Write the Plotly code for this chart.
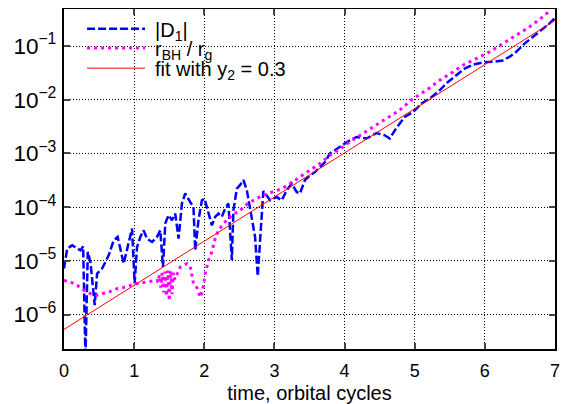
import plotly.graph_objects as go

# |D1| (blue dashed)
d1_t = [0.0, 0.046, 0.117, 0.188, 0.235, 0.273, 0.306, 0.339, 0.377, 0.438,
        0.472, 0.543, 0.590, 0.637, 0.708, 0.765, 0.851, 0.922, 0.970, 1.007,
        1.041, 1.088, 1.135, 1.183, 1.255, 1.326, 1.373, 1.411, 1.444, 1.491,
        1.539, 1.586, 1.633, 1.681, 1.728, 1.799, 1.846, 1.871, 1.917, 1.966,
        2.003, 2.037, 2.108, 2.155, 2.202, 2.250, 2.297, 2.344, 2.393, 2.415,
        2.464, 2.511, 2.558, 2.606, 2.653, 2.724, 2.762, 2.800, 2.842, 2.937,
        3.033, 3.104, 3.175, 3.246, 3.317, 3.364, 3.435, 3.506, 3.578, 3.649,
        3.720, 3.791, 3.862, 3.933, 4.004, 4.075, 4.171, 4.313, 4.455, 4.573,
        4.644, 4.740, 4.858, 4.976, 5.095, 5.213, 5.356, 5.474, 5.593, 5.711,
        5.853, 5.996, 6.138, 6.256, 6.351, 6.447, 6.565, 6.683, 6.802, 6.920,
        6.990]
d1_val = [7.2e-6, 1.7e-5, 1.95e-5, 1.7e-5, 1.57e-5, 1.87e-5, 1.5e-7, 1.47e-5, 9.5e-6, 1.5e-6,
          5.8e-6, 7.2e-6, 9.5e-6, 1.27e-5, 2.4e-5, 2.8e-5, 8.9e-6, 2.1e-5, 4.0e-5, 3.8e-6,
          1.8e-5, 2.8e-5, 3.7e-5, 2.6e-5, 2.25e-5, 2.8e-5, 3.7e-5, 7.7e-6, 5.0e-5, 7.1e-5,
          5.7e-5, 7.6e-5, 2.6e-5, 1.17e-4, 1.8e-4, 1.25e-4, 1.0e-4, 1.57e-5, 5.7e-5, 1.34e-4,
          1.44e-4, 1.0e-4, 4.6e-5, 6.6e-5, 7.6e-5, 6.6e-5, 9.4e-5, 1.17e-4, 1.03e-5, 8.7e-5,
          2.2e-4, 2.6e-4, 3.2e-4, 2.1e-4, 1.0e-4, 2.8e-5, 5.2e-6, 3.7e-5, 2.0e-4, 1.35e-4,
          1.55e-4, 1.34e-4, 2.07e-4, 2.75e-4, 1.92e-4, 1.8e-4, 3.2e-4, 3.9e-4, 4.5e-4, 5.6e-4,
          6.9e-4, 1.0e-3, 1.15e-3, 1.32e-3, 1.53e-3, 1.76e-3, 2.03e-3, 1.9e-3, 2.4e-3, 2.18e-3,
          1.9e-3, 3.0e-3, 4.8e-3, 5.9e-3, 8.5e-3, 1.05e-2, 1.5e-2, 2.15e-2, 2.86e-2, 3.8e-2,
          4.6e-2, 5.0e-2, 5.1e-2, 5.4e-2, 6.3e-2, 7.8e-2, 0.111, 0.148, 0.197, 0.262,
          0.325]

# r_BH / r_g (magenta dotted)
rbh_t = [0.0, 0.092, 0.188, 0.282, 0.377, 0.472, 0.566, 0.661, 0.757, 0.851,
         0.946, 1.041, 1.183, 1.326, 1.34, 1.36, 1.38, 1.40, 1.42, 1.44,
         1.46, 1.48, 1.50, 1.52, 1.54, 1.56, 1.58, 1.657, 1.752, 1.80,
         1.846, 1.90, 1.942, 1.977, 2.013, 2.06, 2.108, 2.155, 2.202, 2.273,
         2.344, 2.415, 2.486, 2.582, 2.70, 2.819, 2.937, 3.104, 3.222, 3.364,
         3.506, 3.649, 3.791, 3.909, 4.075, 4.218, 4.407, 4.597, 4.787, 4.976,
         5.166, 5.356, 5.545, 5.687, 5.878, 6.067, 6.256, 6.447, 6.636, 6.825,
         6.92]
rbh_val = [4.35e-6, 4.05e-6, 3.5e-6, 2.84e-6, 2.46e-6, 2.29e-6, 2.5e-6, 2.7e-6, 3.05e-6, 3.2e-6,
           3.5e-6, 3.8e-6, 4.05e-6, 4.35e-6, 4.0e-6, 5.5e-6, 3.2e-6, 6.0e-6, 2.6e-6, 6.3e-6,
           2.2e-6, 6.6e-6, 1.8e-6, 6.5e-6, 2.4e-6, 6.0e-6, 4.5e-6, 7.7e-6, 8.9e-6, 7.9e-6,
           3.8e-6, 3.1e-6, 2.1e-6, 2.84e-6, 5.8e-6, 1.03e-5, 1.47e-5, 2.6e-5, 3.7e-5, 4.95e-5,
           6.1e-5, 7.6e-5, 8.1e-5, 1.08e-4, 1.34e-4, 1.63e-4, 1.85e-4, 2.2e-4, 2.75e-4, 3.65e-4,
           4.9e-4, 6.5e-4, 9.3e-4, 1.15e-3, 1.64e-3, 2.18e-3, 3.1e-3, 4.5e-3, 6.4e-3, 1.05e-2,
           1.5e-2, 2.3e-2, 3.3e-2, 4.4e-2, 5.85e-2, 7.8e-2, 0.111, 0.159, 0.227, 0.348,
           0.447]

# exponential fit: y = fit_a * (fit_end / fit_a) ** (t / fit_tmax)
fit_a = 5.3e-7
fit_end = 0.3
fit_tmax = 7.0
fit_t = [0.0, 7.0]
fit_val = [fit_a * (fit_end / fit_a) ** (t / fit_tmax) for t in fit_t]

x_ticks = [0, 1, 2, 3, 4, 5, 6, 7]

series_names = ["|D<sub>1</sub>|", "r<sub>BH</sub> / r<sub>g</sub>", "fit with y<sub>2</sub> = 0.3"]
series_colors = ["#0000ff", "#ff00ff", "#ff0000"]
series_widths = [2.5, 3, 1]
series_dashes = ["8px,3px", "3px,4px", "solid"]

font = "Liberation Sans, Arial, Helvetica, sans-serif"
fs = 18      # tick labels
fs_big = 20  # key and axis title

fig = go.Figure()
for xs, ys, name, c, w, d in zip([d1_t, rbh_t, fit_t], [d1_val, rbh_val, fit_val],
                                 series_names, series_colors, series_widths, series_dashes):
    fig.add_trace(go.Scatter(x=xs, y=ys, mode="lines", name=name, showlegend=False,
                             line=dict(color=c, width=w, dash=d)))

# white key box hides the grid behind the key, gnuplot-style
fig.add_shape(type="rect", xref="paper", yref="paper", x0=0.005, x1=0.57, y0=0.80, y1=0.995,
              fillcolor="white", line=dict(width=0), layer="below")

# key drawn by hand so rows sit close together like the original
key_y = [0.942, 0.885, 0.826]
for ky, name, c, w, d in zip(key_y, series_names, series_colors, series_widths, series_dashes):
    fig.add_shape(type="line", xref="paper", yref="paper", x0=0.047, x1=0.165, y0=ky, y1=ky,
                  line=dict(color=c, width=w, dash=d))
    fig.add_annotation(xref="paper", yref="paper", x=0.181, y=ky - 0.008, text=name,
                       showarrow=False, xanchor="left", yanchor="middle",
                       font=dict(size=fs_big, color="black"))

fig.update_xaxes(range=[0, 7], tickvals=x_ticks, ticks="inside", ticklen=6, tickwidth=1.5,
                 mirror="allticks", showline=True, linecolor="black", linewidth=2,
                 showgrid=True, gridcolor="black", gridwidth=1, griddash="1px,2px",
                 zeroline=False, tickfont=dict(size=fs, color="black"), ticklabelstandoff=4,
                 title=dict(text="time, orbital cycles", font=dict(size=fs_big, color="black"), standoff=8))
fig.update_yaxes(type="log", range=[-6.64, -0.31], dtick=1, exponentformat="power",
                 ticks="inside", ticklen=6, tickwidth=1.5, mirror="allticks",
                 showline=True, linecolor="black", linewidth=2,
                 showgrid=True, gridcolor="black", gridwidth=1, griddash="1px,2px",
                 tickfont=dict(size=fs, color="black"), ticklabelstandoff=2)

# the page body adds an 8px offset, so the figure is 8px smaller on each side
fig.update_layout(
    width=566, height=396,
    margin=dict(l=56, r=19, t=1, b=55, autoexpand=False),
    plot_bgcolor="white", paper_bgcolor="white",
    font=dict(family=font, size=fs, color="black"),
)

fig.write_html("out.html")
